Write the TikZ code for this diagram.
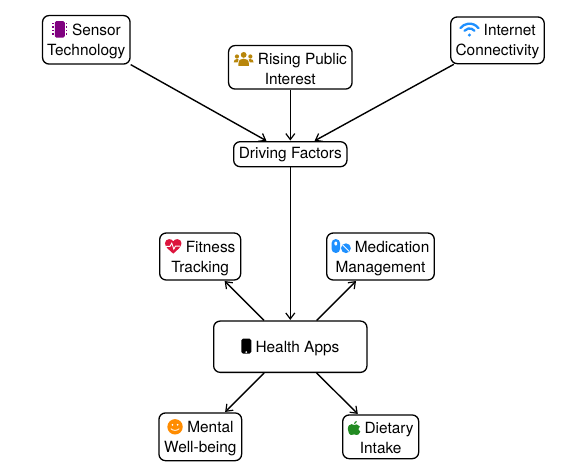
\documentclass[tikz,border=0pt]{standalone}
\usepackage{fontspec}
\setmainfont{TeX Gyre Heros}
\usetikzlibrary{arrows.meta}
\definecolor{icpurple}{HTML}{800080}
\definecolor{icgold}{HTML}{B8860B}
\definecolor{icblue}{HTML}{1E90FF}
\definecolor{icred}{HTML}{DC143C}
\definecolor{icorange}{HTML}{FF8C00}
\definecolor{icgreen}{HTML}{228B22}
\tikzset{
  box/.style={draw=black,line width=1.3pt,rounded corners=6.5pt,inner sep=0pt,align=center,
    font=\fontsize{15.4}{20}\selectfont,fill=white},
  link/.style={draw=black,line width=1.4pt,-{Straight Barb[length=6pt,width=9pt,line width=1.2pt]},shorten >=0.5pt},
  icon/.style={baseline=0pt,x=1pt,y=1pt,sharp corners,line width=1pt}
}
\newcommand\icChip{\tikz[icon]{\useasboundingbox (0,0) rectangle (16,14.6);
  \fill[icpurple,rounded corners=1.5pt] (3,-2.3) rectangle (13,14.3);
  \foreach \py in {0.6,4.2,7.8,11.4}{\fill[icpurple] (0.3,\py) rectangle (2.2,\py+1.4);\fill[icpurple] (13.8,\py) rectangle (15.7,\py+1.4);}}}
\newcommand\icUsers{\tikz[icon]{\useasboundingbox (0,0) rectangle (20,14.6);
  \fill[icgold] (10,9.6) circle (2.9);
  \fill[icgold] (3.3,8) circle (2.1);
  \fill[icgold] (16.7,8) circle (2.1);
  \fill[icgold] (4.8,-1.5) -- (4.8,1) .. controls (4.8,4.5) and (7,5.8) .. (10,5.8) .. controls (13,5.8) and (15.2,4.5) .. (15.2,1) -- (15.2,-1.5) -- cycle;
  \fill[icgold] (0,2) .. controls (0,4.5) and (1.5,5.5) .. (3.5,5.5) -- (5,5) .. controls (4.2,4.2) and (3.8,3.2) .. (3.8,2) -- cycle;
  \fill[icgold] (20,2) .. controls (20,4.5) and (18.5,5.5) .. (16.5,5.5) -- (15,5) .. controls (15.8,4.2) and (16.2,3.2) .. (16.2,2) -- cycle;}}
\newcommand\icWifi{\tikz[icon]{\useasboundingbox (0,0) rectangle (20,14.6);
  \fill[icblue] (10,0.9) circle (1.7);
  \draw[icblue,line width=2.3pt,line cap=round] (15,5.18) arc (40:140:6.5);
  \draw[icblue,line width=2.3pt,line cap=round] (19.02,7.8) arc (37:143:11.3);}}
\newcommand\icHeart{\tikz[icon]{\useasboundingbox (0,0) rectangle (16.5,14.6);
  \fill[icred] (8.25,-1.5) .. controls (4,2.5) and (0,5) .. (0,9) .. controls (0,11.5) and (2,13) .. (4.3,13) .. controls (6,13) and (7.5,12) .. (8.25,10.8) .. controls (9,12) and (10.5,13) .. (12.2,13) .. controls (14.5,13) and (16.5,11.5) .. (16.5,9) .. controls (16.5,5) and (12.5,2.5) .. (8.25,-1.5) -- cycle;
  \draw[white,line width=0.9pt] (1,5.8) -- (5,5.8) -- (6.8,9) -- (8.8,3) -- (10.4,6) -- (15.5,6);}}
\newcommand\icPills{\tikz[icon]{\useasboundingbox (0,0) rectangle (19,14.6);
  \fill[icblue,rounded corners=3.9pt] (0,-0.8) rectangle (8.4,13);
  \fill[white,rounded corners=1.2pt] (2.8,6.5) rectangle (5.6,10.6);
  \fill[icblue] (14.3,3.9) circle (4.9);
  \draw[white,line width=0.9pt] (10.9,7.3) -- (17.7,0.5);}}
\newcommand\icMobile{\tikz[icon]{\useasboundingbox (0,0) rectangle (10,14.6);
  \fill[black,rounded corners=1.7pt] (0,-1.3) rectangle (10,13.7);
  \fill[white] (5,0.3) circle (1);}}
\newcommand\icSmile{\tikz[icon]{\useasboundingbox (0,0) rectangle (16,14.6);
  \fill[icorange] (8,5.6) circle (7.7);
  \fill[white] (5.4,7.6) circle (1);
  \fill[white] (10.6,7.6) circle (1);
  \draw[white,line width=0.8pt] (3.8,3.8) .. controls (5.5,1.5) and (10.5,1.5) .. (12.2,3.8);}}
\newcommand\icApple{\tikz[icon]{\useasboundingbox (0,0) rectangle (12.5,14.6);
  \fill[icgreen] (6.2,9) .. controls (7.5,10) and (10.5,10) .. (12,7.5) .. controls (10,6.3) and (10,3.3) .. (12.5,2.2) .. controls (11.5,-0.3) and (10,-1) .. (9,-1) .. controls (8,-1) and (7.3,-0.4) .. (6.3,-0.4) .. controls (5.3,-0.4) and (4.5,-1) .. (3.5,-1) .. controls (1.5,-1) and (0,2.5) .. (0,5) .. controls (0,8.5) and (2.2,9.8) .. (3.8,9.8) .. controls (4.8,9.8) and (5.5,9) .. (6.2,9) -- cycle;
  \fill[icgreen] (6.2,10) .. controls (6.2,12) and (7.5,13) .. (9,13) .. controls (9,11.5) and (8,10.2) .. (6.2,10) -- cycle;}}
\begin{document}
\begin{tikzpicture}[x=1pt,y=-1pt]
\useasboundingbox (0,0) rectangle (565,472);
\node[box,minimum width=87.5pt,minimum height=48.5pt] (sensor) at (86.3,39.8) {\icChip\ Sensor\\Technology};
\node[box,minimum width=123.5pt,minimum height=43.5pt] (rising) at (290.3,67.3) {\icUsers\ Rising Public\\Interest};
\node[box,minimum width=93.5pt,minimum height=46.7pt] (internet) at (497.5,40.3) {\icWifi\ Internet\\Connectivity};
\node[box,minimum width=113.3pt,minimum height=25pt] (driving) at (290.3,154.2) {Driving Factors};
\node[box,minimum width=81pt,minimum height=47pt] (fitness) at (200.2,256.5) {\icHeart\ Fitness\\Tracking};
\node[box,minimum width=107.6pt,minimum height=47pt] (medication) at (380.5,256.5) {\icPills\ Medication\\Management};
\node[box,minimum width=153.3pt,minimum height=51.3pt] (health) at (290.3,346.7) {\icMobile\ Health Apps};
\node[box,minimum width=82.7pt,minimum height=47.7pt] (mental) at (200.3,436.8) {\icSmile\ Mental\\Well-being};
\node[box,minimum width=76pt,minimum height=43.7pt] (dietary) at (380.7,436.8) {\icApple\ Dietary\\Intake};
\draw[link] (sensor) -- (driving);
\draw[link] (rising) -- (driving);
\draw[link] (internet) -- (driving);
\draw[link] (driving) -- (health);
\draw[link] (health) -- (fitness);
\draw[link] (health) -- (medication);
\draw[link] (health) -- (mental);
\draw[link] (health) -- (dietary);
\end{tikzpicture}
\end{document}
